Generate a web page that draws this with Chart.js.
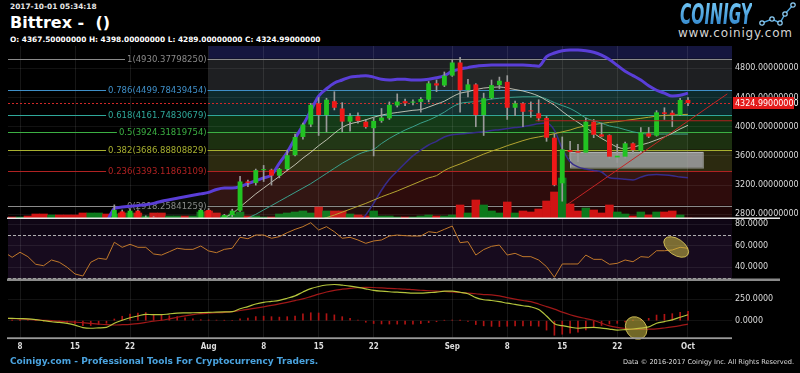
<!DOCTYPE html>
<html>
<head>
<meta charset="utf-8">
<script src="https://cdn.jsdelivr.net/npm/chart.js@4.4.0/dist/chart.umd.min.js"></script>
<style>
  body { margin:0; background:#000; width:800px; height:373px; overflow:hidden; position:relative; font-family:'DejaVu Sans', sans-serif; }
  canvas { position:absolute; left:0; }
  .txt { position:absolute; white-space:nowrap; color:#e6e6e6; }
</style>
</head>
<body>
<div class="txt" style="left:10px;top:2px;font:bold 7.4px 'DejaVu Sans';line-height:10px">2017-10-01 05:34:18</div>
<div class="txt" style="left:10px;top:13px;font:bold 16px 'DejaVu Sans';line-height:20px;color:#fff">Bittrex -&nbsp; ()</div>
<div class="txt" style="left:10px;top:34.6px;font:bold 7.4px 'DejaVu Sans';line-height:9px;color:#fff">O: 4367.50000000 H: 4398.00000000 L: 4289.00000000 C: 4324.99000000</div>

<div class="txt" style="left:680px;top:1px;font:italic bold 28px 'DejaVu Sans';line-height:28px;transform:scaleX(0.55);transform-origin:left top;background:linear-gradient(#74c8f6,#2b7fc6);-webkit-background-clip:text;background-clip:text;color:transparent">COINIGY</div>
<svg style="position:absolute;left:756px;top:0" width="42" height="30">
  <polyline points="6,23 16,19 24,23 29,14 37,5" fill="none" stroke="#4fa6e0" stroke-width="1.4"/>
  <circle cx="6" cy="23" r="2.2" fill="#000" stroke="#8fd0f8" stroke-width="1.2"/>
  <circle cx="16" cy="19" r="2.2" fill="#000" stroke="#8fd0f8" stroke-width="1.2"/>
  <circle cx="24" cy="23" r="2.2" fill="#000" stroke="#8fd0f8" stroke-width="1.2"/>
  <circle cx="29" cy="14" r="2.2" fill="#000" stroke="#8fd0f8" stroke-width="1.2"/>
  <circle cx="37" cy="5" r="2.2" fill="#000" stroke="#8fd0f8" stroke-width="1.2"/>
</svg>
<div class="txt" style="left:678px;top:27px;font:12px 'DejaVu Sans';line-height:13px;letter-spacing:0.8px;color:#d4d4d4">www.coinigy.com</div>

<canvas id="cMain" width="800" height="173" style="top:46px"></canvas>
<canvas id="cRsi" width="800" height="62" style="top:219px"></canvas>
<canvas id="cMacd" width="800" height="81" style="top:281px"></canvas>

<div class="txt" style="left:10px;top:356px;font:bold 9px 'DejaVu Sans';line-height:10px;color:#4aa3df">Coinigy.com - Professional Tools For Cryptocurrency Traders.</div>
<div class="txt" style="right:6px;top:357.6px;font:6.6px 'DejaVu Sans';line-height:8px;color:#ddd">Data © 2016-2017 Coinigy Inc. All Rights Reserved.</div>

<script>
// daily candles, Bittrex BTC/USDT
const dates = [
  '07-06','07-07','07-08','07-09','07-10','07-11','07-12','07-13','07-14','07-15',
  '07-16','07-17','07-18','07-19','07-20','07-21','07-22','07-23','07-24','07-25',
  '07-26','07-27','07-28','07-29','07-30','07-31','08-01','08-02','08-03','08-04',
  '08-05','08-06','08-07','08-08','08-09','08-10','08-11','08-12','08-13','08-14',
  '08-15','08-16','08-17','08-18','08-19','08-20','08-21','08-22','08-23','08-24',
  '08-25','08-26','08-27','08-28','08-29','08-30','08-31','09-01','09-02','09-03',
  '09-04','09-05','09-06','09-07','09-08','09-09','09-10','09-11','09-12','09-13',
  '09-14','09-15','09-16','09-17','09-18','09-19','09-20','09-21','09-22','09-23',
  '09-24','09-25','09-26','09-27','09-28','09-29','09-30','10-01'
];
const opens = [
  2610,2600,2500,2560,2510,2360,2330,2400,2360,2210,
  1990,1930,2230,2320,2280,2840,2680,2850,2740,2760,
  2580,2560,2690,2730,2700,2710,2860,2720,2700,2790,
  2850,3250,3230,3405,3410,3330,3420,3610,3860,4030,
  4320,4160,4350,4250,4070,4145,4070,3980,4080,4115,
  4290,4350,4330,4340,4370,4595,4565,4700,4880,4500,
  4580,4160,4390,4570,4615,4260,4320,4215,4185,4120,
  3850,3225,3680,3665,3645,4070,3895,3885,3580,3590,
  3773,3670,3910,3877,4197,4192,4160,4367.5
];
const highs = [
  2620,2610,2570,2570,2520,2400,2420,2420,2380,2230,
  2030,2230,2390,2400,2930,2860,2870,2860,2780,2770,
  2620,2700,2730,2735,2720,2870,2880,2730,2800,2870,
  3320,3270,3420,3470,3420,3430,3680,3900,4050,4320,
  4400,4390,4480,4330,4180,4190,4100,4120,4250,4340,
  4450,4380,4370,4400,4620,4640,4750,4920,4950,4650,
  4590,4460,4640,4680,4700,4350,4330,4340,4370,4140,
  3900,3860,3800,3760,4120,4100,4050,3890,3760,3790,
  3780,3990,3990,4220,4260,4220,4390,4398
];
const lows = [
  2580,2490,2480,2500,2320,2270,2260,2340,2160,1970,
  1840,1920,2170,2260,2270,2620,2660,2680,2700,2480,
  2460,2550,2660,2640,2600,2700,2660,2650,2690,2770,
  2840,3180,3200,3250,3200,3300,3400,3600,3830,4000,
  3880,3930,4230,3930,3940,4050,3980,3600,4060,4100,
  4270,4290,4300,4200,4340,4480,4550,4690,4200,4410,
  4000,3880,4380,4520,4100,4150,4000,4130,4080,3800,
  3190,2980,3560,3520,3640,3850,3860,3570,3510,3570,
  3630,3660,3850,3870,4100,4000,4150,4289
];
const closes = [
  2600,2500,2560,2510,2360,2330,2400,2360,2210,1990,
  1930,2230,2320,2280,2860,2680,2850,2740,2760,2580,
  2560,2690,2730,2700,2710,2860,2720,2700,2790,2850,
  3250,3230,3405,3410,3330,3420,3610,3860,4030,4300,
  4160,4370,4260,4070,4145,4080,3995,4080,4125,4300,
  4345,4320,4345,4380,4595,4565,4700,4880,4500,4580,
  4160,4390,4570,4630,4260,4320,4205,4210,4115,3850,
  3200,3690,3655,3645,4070,3890,3865,3590,3603,3773,
  3680,3923,3865,4197,4175,4160,4366,4324.99
];
const volumes = [
  200,200,200,300,500,500,400,400,400,400,
  600,600,600,500,500,600,600,600,300,600,
  600,300,300,300,300,700,800,600,300,500,
  700,300,300,200,200,500,600,700,800,600,
  1200,800,800,800,500,400,300,800,300,300,
  200,200,200,300,400,300,300,400,1400,600,
  1900,1400,800,600,1700,600,800,700,1000,1800,
  2700,4100,1500,800,1100,900,600,1400,700,500,
  300,700,400,700,700,800,400,100
];

// overlays
const maFast = [
  2560,2555,2550,2540,2520,2490,2470,2450,2420,2370,
  2320,2300,2300,2295,2380,2440,2500,2540,2570,2580,
  2590,2610,2640,2660,2680,2710,2720,2730,2760,2810,
  2900,2990,3080,3160,3240,3320,3400,3480,3570,3650,
  3740,3820,3910,3990,4040,4065,4095,4130,4160,4180,
  4195,4210,4225,4235,4270,4310,4350,4410,4460,4480,
  4510,4530,4540,4545,4530,4510,4490,4460,4420,4360,
  4297,4210,4130,4060,3990,3910,3840,3780,3720,3700,
  3720,3750,3780,3820,3860,3910,3970,4020
];
const maMid = [
  2540,2540,2540,2535,2530,2520,2510,2500,2490,2470,
  2440,2430,2420,2410,2430,2440,2460,2480,2490,2500,
  2510,2520,2540,2550,2560,2580,2590,2600,2620,2660,
  2700,2750,2800,2860,2920,2980,3040,3100,3160,3220,
  3290,3360,3430,3500,3560,3620,3660,3690,3770,3840,
  3900,3955,4000,4050,4090,4140,4200,4270,4320,4335,
  4345,4360,4380,4390,4400,4405,4410,4410,4410,4380,
  4330,4290,4250,4190,4120,4080,4050,4010,3990,3960,
  3930,3910,3900,3900,3900,3900,3900,3900
];
const maSlow = [
  2500,2500,2500,2500,2495,2490,2485,2480,2470,2460,
  2450,2445,2440,2435,2440,2445,2450,2455,2460,2462,
  2465,2470,2475,2480,2485,2490,2495,2500,2505,2515,
  2525,2535,2545,2560,2575,2590,2605,2620,2645,2680,
  2720,2755,2790,2830,2870,2910,2950,2995,3040,3080,
  3120,3165,3210,3255,3300,3330,3400,3450,3490,3535,
  3580,3625,3665,3700,3740,3775,3810,3840,3860,3880,
  3905,3930,3955,3990,4010,4030,4045,4060,4070,4085,
  4100,4115,4130,4145,4155,4160,4165,4170
];
const bbUpper = [
  2720,2720,2710,2700,2690,2680,2680,2670,2670,2680,
  2700,2710,2720,2720,2880,2900,2910,2920,2930,2950,
  2980,3000,3020,3040,3060,3080,3100,3140,3160,3160,
  3180,3220,3260,3300,3340,3500,3650,3840,4020,4220,
  4420,4520,4600,4640,4680,4690,4700,4680,4650,4640,
  4650,4650,4640,4640,4650,4670,4700,4760,4790,4810,
  4830,4840,4845,4845,4845,4845,4845,4840,4830,4960,
  5010,5040,5050,5050,5040,5020,4980,4920,4840,4760,
  4700,4640,4560,4500,4460,4420,4430,4460
];
const bbLower = [
  2350,2360,2370,2380,2370,2340,2320,2300,2260,2180,
  2100,2060,2050,2050,2060,2080,2100,2120,2150,2170,
  2200,2230,2270,2310,2350,2400,2440,2460,2480,2500,
  2480,2470,2450,2430,2420,2400,2380,2360,2340,2330,
  2330,2340,2370,2420,2520,2650,2790,2950,3130,3280,
  3390,3500,3600,3680,3750,3800,3860,3890,3900,3910,
  3920,3930,3950,3960,3975,3990,4000,4020,4040,4050,
  3950,3700,3520,3450,3420,3400,3380,3300,3290,3280,
  3270,3310,3340,3345,3340,3330,3310,3300
];

// indicators
const rsi = [
  54,49.3,54.0,49.9,42.8,41.5,46.8,44.7,40.0,33.8,
  31.9,44.7,48.4,47.4,63.3,58.6,61.4,58.6,58.6,52.4,
  51.4,54.5,57.7,56.7,56.7,59.8,55.2,53.6,56.7,57.7,
  67.9,66.6,70.0,70.0,67.0,68.5,72.2,75.3,77.8,81.5,
  74.7,77.8,73.1,67.0,67.9,65.4,62.3,64.5,65.4,69.1,
  70.0,69.4,69.1,69.1,73.1,72.2,75.3,78.4,62.9,63.8,
  51.4,56.5,59.5,60.7,51.4,53.0,49.9,49.9,46.8,40.6,
  30.7,43.1,43.1,43.1,51.4,47.4,47.4,42.8,43.7,46.8,
  45.2,49.9,49.3,55.4,55.4,56.1,58.6,57.7
];
const macd = [
  29,27,24,22,13,0,-12,-20,-32,-52,
  -80,-88,-84,-77,-30,5,35,55,75,70,
  70,80,88,91,93,95,97,100,102,105,
  140,165,195,215,225,238,262,290,335,375,
  400,417,423,415,405,390,372,355,345,338,
  333,328,322,322,328,333,345,345,332,315,
  270,245,236,222,205,190,175,162,130,55,
  -35,-58,-76,-88,-82,-78,-86,-98,-109,-104,
  -97,-86,-72,-30,-10,10,40,70
];
const macdSignal = [
  30,25,20,15,10,5,0,-6,-12,-17,
  -23,-32,-40,-47,-50,-47,-43,-35,-20,-5,
  5,22,40,57,72,83,88,93,98,105,
  119,133,147,162,178,196,215,235,255,282,
  310,335,355,368,378,385,390,388,383,377,
  373,369,362,356,350,345,341,337,330,322,
  315,305,302,290,270,252,236,222,195,165,
  135,100,70,45,25,5,-30,-60,-78,-90,
  -100,-100,-99,-96,-85,-72,-57,-40
];
const macdHist = [
  0,2,4,7,3,-5,-12,-14,-20,-35,
  -57,-56,-44,-30,20,52,78,90,95,75,
  65,58,48,34,21,12,9,7,4,0,
  21,32,48,53,47,42,47,55,80,93,
  90,82,68,47,27,5,-18,-33,-38,-39,
  -40,-41,-40,-34,-22,-12,4,8,2,-7,
  -45,-60,-66,-68,-65,-62,-61,-60,-65,-110,
  -170,-158,-146,-133,-107,-83,-56,-38,-31,-14,
  3,14,27,66,75,82,97,110
];

// fibonacci retracement drawn from Aug 1
const fibRatios = ['1','0.786','0.618','0.5','0.382','0.236','0'];
const fibPrices = [4930.37798250, 4499.78439454, 4161.74830679, 3924.31819754, 3686.88808829, 3393.11863109, 2918.25841259];
const fibStart = '08-01';

// drawings (x in candle index units, y in price / indicator units)
const trendLine = [{x: 71.6, y: 2930}, {x: 92, y: 4450}];
const supportLine = [{x: 67.6, y: 4082}, {x: 92.6, y: 4082}];
const grayBox = {x0: 72, x1: 88.9, y0: 3440, y1: 3655};
const rsiMark = {x: 85.5, y: 58.9};
const macdMark = {x: 80.4, y: -85};

// axes
const tickDates = ['07-08','07-15','07-22','08-01','08-08','08-15','08-22','09-01','09-08','09-15','09-22','10-01'];
const tickLabels = ['8','15','22','Aug','8','15','22','Sep','8','15','22','Oct'];
const priceTicks = [2800, 3200, 3600, 4000, 4400, 4800];
const rsiTicks = [40, 60, 80];
const rsiBands = [70, 30];
const macdTicks = [0, 250];
const lastClose = closes[closes.length - 1];

const X_MIN = 0.47, X_MAX = 92.6;
const idx = dates.map((d, i) => i);
const tickIdx = tickDates.map(d => dates.indexOf(d));

const UP = '#22c322', DOWN = '#f01818';
const candleColors = idx.map(i => closes[i] >= opens[i] ? UP : DOWN);
const volColors = idx.map(i => closes[i] >= opens[i] ? '#0d7a1c' : '#d01414');

function xAxis(showLabels) {
    return {
        type: 'linear', min: X_MIN, max: X_MAX, offset: false,
        afterBuildTicks: s => { s.ticks = tickIdx.map(v => ({value: v})); },
        afterFit: s => { s.paddingLeft = 0; s.paddingRight = 0; if (showLabels) s.height = 24; },
        ticks: {
            display: showLabels, autoSkip: false, maxRotation: 0, padding: 4, color: '#dcdcdc',
            font: {family: "'DejaVu Sans Condensed','DejaVu Sans'", size: 8, weight: 'bold'},
            callback: (v, i) => tickLabels[i]
        },
        grid: {color: 'rgba(255,255,255,0.09)', drawTicks: false, offset: false},
        border: {display: false}
    };
}

function yAxis(min, max, ticks, decimals) {
    return {
        position: 'right', min: min, max: max,
        afterBuildTicks: s => { s.ticks = ticks.map(v => ({value: v})); },
        afterFit: s => { s.width = 68; s.paddingTop = 0; s.paddingBottom = 0; },
        ticks: {color: '#dcdcdc', padding: 3, font: {family: 'DejaVu Sans', size: 8}, callback: v => v.toFixed(decimals)},
        grid: {color: 'rgba(255,255,255,0.07)', drawTicks: false},
        border: {display: false}
    };
}

const baseOptions = {
    responsive: false, animation: false, devicePixelRatio: 1,
    layout: {padding: {left: 8, right: 0, top: 0, bottom: 0}},
    plugins: {legend: {display: false}, tooltip: {enabled: false}}
};

// ---------- main price panel ----------
const zoneColors = ['#15163f', '#1e1f22', '#0d2a2c', '#0f3312', '#1c3010', '#2c2a10', '#2e0c0c', '#1e0606'];
const fibColors = ['#8a8a8a', '#3f8fc8', '#2fa89a', '#3cb043', '#a8b030', '#b02222', '#8a8a8a'];

const mainPlugin = {
    id: 'mainDecor',
    beforeDraw(chart) {
        const {ctx, chartArea: a, scales: {x, y}} = chart;
        const x0 = x.getPixelForValue(dates.indexOf(fibStart));
        ctx.save();
        for (let k = 0; k <= fibPrices.length; k++) {
            const top = k === 0 ? a.top : y.getPixelForValue(fibPrices[k - 1]);
            const bot = k === fibPrices.length ? a.bottom : y.getPixelForValue(fibPrices[k]);
            ctx.fillStyle = zoneColors[k];
            ctx.fillRect(x0, top, a.right - x0, bot - top);
        }
        ctx.restore();
    },
    beforeDatasetsDraw(chart) {
        const {ctx, chartArea: a, scales: {x, y}} = chart;
        const x0 = x.getPixelForValue(dates.indexOf(fibStart));
        ctx.save();
        ctx.beginPath();
        ctx.rect(a.left, a.top, a.right - a.left, a.bottom - a.top);
        ctx.clip();
        ctx.font = "8.5px 'DejaVu Sans'";
        ctx.textBaseline = 'middle';
        ctx.textAlign = 'right';
        fibPrices.forEach((p, k) => {
            const py = Math.round(y.getPixelForValue(p)) + 0.5;
            ctx.strokeStyle = fibColors[k];
            ctx.lineWidth = 1;
            ctx.beginPath(); ctx.moveTo(a.left, py); ctx.lineTo(a.right, py); ctx.stroke();
            const label = fibRatios[k] + '(' + p.toFixed(8) + ')';
            const w = ctx.measureText(label).width;
            ctx.fillStyle = '#000';
            ctx.fillRect(x0 - w - 4, py - 5, w + 3, 10);
            ctx.fillStyle = fibColors[k];
            ctx.fillText(label, x0 - 2, py);
        });
        // last price
        const ly = Math.round(y.getPixelForValue(lastClose)) + 0.5;
        ctx.strokeStyle = '#d02828';
        ctx.setLineDash([2, 2]);
        ctx.beginPath(); ctx.moveTo(a.left, ly); ctx.lineTo(a.right, ly); ctx.stroke();
        ctx.setLineDash([]);
        // zone box
        const bx0 = x.getPixelForValue(grayBox.x0), bx1 = x.getPixelForValue(grayBox.x1);
        const by0 = y.getPixelForValue(grayBox.y1), by1 = y.getPixelForValue(grayBox.y0);
        ctx.fillStyle = 'rgba(190,190,200,0.68)';
        ctx.fillRect(bx0, by0, bx1 - bx0, by1 - by0);
        ctx.strokeStyle = 'rgba(220,220,230,0.5)';
        ctx.strokeRect(bx0 + 0.5, by0 + 0.5, bx1 - bx0, by1 - by0);
        ctx.restore();
    },
    afterDraw(chart) {
        const {ctx, chartArea: a, scales: {y}} = chart;
        ctx.save();
        const ly = y.getPixelForValue(lastClose);
        ctx.fillStyle = '#e41b1b';
        ctx.fillRect(a.right + 1, ly - 6, 61, 12);
        ctx.fillStyle = '#fff';
        ctx.font = "8px 'DejaVu Sans'";
        ctx.textBaseline = 'middle';
        ctx.textAlign = 'left';
        ctx.fillText(lastClose.toFixed(8), a.right + 3, ly + 0.5);
        ctx.fillStyle = '#e8e8e8';
        ctx.fillRect(7, a.bottom - 1.5, 773, 2);
        ctx.restore();
    }
};

new Chart(document.getElementById('cMain'), {
    type: 'bar',
    data: {
        labels: idx,
        datasets: [
            {type: 'line', label: 'Trend', data: trendLine, yAxisID: 'y', borderColor: '#c42424', borderWidth: 1, pointRadius: 0, order: 0},
            {type: 'line', label: 'Support', data: supportLine, yAxisID: 'y', borderColor: '#b02020', borderWidth: 1.2, pointRadius: 0, order: 0},
            {type: 'bar', label: 'Body', data: idx.map(i => [opens[i], closes[i]]), yAxisID: 'y', backgroundColor: candleColors,
             barPercentage: 0.62, categoryPercentage: 1, grouped: false, minBarLength: 1, borderWidth: 0, order: 1},
            {type: 'bar', label: 'Wick', data: idx.map(i => [lows[i], highs[i]]), yAxisID: 'y', backgroundColor: '#9a9a9a',
             barThickness: 1, grouped: false, borderWidth: 0, order: 2},
            {type: 'line', label: 'MA fast', data: maFast, yAxisID: 'y', borderColor: 'rgba(215,215,200,0.85)', borderWidth: 1, pointRadius: 0, cubicInterpolationMode: 'monotone', order: 3},
            {type: 'line', label: 'MA mid', data: maMid, yAxisID: 'y', borderColor: '#3aa08c', borderWidth: 1, pointRadius: 0, cubicInterpolationMode: 'monotone', order: 3},
            {type: 'line', label: 'MA slow', data: maSlow, yAxisID: 'y', borderColor: '#b4a430', borderWidth: 1, pointRadius: 0, cubicInterpolationMode: 'monotone', order: 3},
            {type: 'line', label: 'BB upper', data: bbUpper, yAxisID: 'y', borderColor: '#5a3ed8', borderWidth: 3, pointRadius: 0, cubicInterpolationMode: 'monotone',
             fill: '+1', backgroundColor: 'rgba(120,150,120,0.07)', order: 4},
            {type: 'line', label: 'BB lower', data: bbLower, yAxisID: 'y', borderColor: '#35298c', borderWidth: 1.5, pointRadius: 0, cubicInterpolationMode: 'monotone', order: 4},
            {type: 'bar', label: 'Volume', data: volumes, yAxisID: 'yv', backgroundColor: volColors,
             barPercentage: 1, categoryPercentage: 1, grouped: false, borderWidth: 0, order: 10}
        ]
    },
    options: Object.assign({}, baseOptions, {
        scales: {
            x: xAxis(false),
            y: yAxis(2736, 5106, priceTicks, 8),
            yv: {display: false, min: 0, max: 17300}
        }
    }),
    plugins: [mainPlugin]
});

// ---------- RSI panel ----------
function drawMark(ctx, px, py, rx, ry, rot) {
    ctx.save();
    ctx.beginPath();
    ctx.ellipse(px, py, rx, ry, rot, 0, Math.PI * 2);
    ctx.fillStyle = 'rgba(205,190,70,0.55)';
    ctx.fill();
    ctx.strokeStyle = 'rgba(225,205,90,0.85)';
    ctx.lineWidth = 1;
    ctx.stroke();
    ctx.restore();
}

const rsiPlugin = {
    id: 'rsiDecor',
    beforeDraw(chart) {
        const {ctx, chartArea: a, scales: {y}} = chart;
        ctx.save();
        ctx.fillStyle = '#0f0615';
        ctx.fillRect(a.left, a.top, a.right - a.left, a.bottom - a.top);
        const t = y.getPixelForValue(rsiBands[0]), b = y.getPixelForValue(rsiBands[1]);
        ctx.fillStyle = '#170b1e';
        ctx.fillRect(a.left, t, a.right - a.left, b - t);
        ctx.restore();
    },
    beforeDatasetsDraw(chart) {
        const {ctx, chartArea: a, scales: {y}} = chart;
        ctx.save();
        ctx.strokeStyle = '#b0b0b0';
        ctx.lineWidth = 1;
        ctx.setLineDash([3, 2]);
        rsiBands.forEach(v => {
            const py = Math.round(y.getPixelForValue(v)) + 0.5;
            ctx.beginPath(); ctx.moveTo(a.left, py); ctx.lineTo(a.right, py); ctx.stroke();
        });
        ctx.restore();
    },
    afterDatasetsDraw(chart) {
        const {ctx, scales: {x, y}} = chart;
        drawMark(ctx, x.getPixelForValue(rsiMark.x), y.getPixelForValue(rsiMark.y), 14, 8, 0.6);
    },
    afterDraw(chart) {
        const {ctx, chartArea: a} = chart;
        ctx.save();
        ctx.fillStyle = '#8a8a8a';
        ctx.fillRect(7, a.bottom - 2.5, 773, 2.5);
        ctx.restore();
    }
};

new Chart(document.getElementById('cRsi'), {
    type: 'line',
    data: {
        labels: idx,
        datasets: [
            {label: 'RSI', data: rsi, borderColor: '#c0782a', borderWidth: 1, pointRadius: 0, tension: 0}
        ]
    },
    options: Object.assign({}, baseOptions, {
        scales: {x: xAxis(false), y: yAxis(27.26, 84.93, rsiTicks, 4)}
    }),
    plugins: [rsiPlugin]
});

// ---------- MACD panel ----------
const macdPlugin = {
    id: 'macdDecor',
    afterDatasetsDraw(chart) {
        const {ctx, scales: {x, y}} = chart;
        drawMark(ctx, x.getPixelForValue(macdMark.x), y.getPixelForValue(macdMark.y), 12, 10, 0.9);
    },
    afterDraw(chart) {
        const {ctx, chartArea: a} = chart;
        ctx.save();
        ctx.fillStyle = '#9a9a9a';
        ctx.fillRect(7, a.bottom - 0.7, a.right - 7, 1.8);
        ctx.restore();
    }
};

new Chart(document.getElementById('cMacd'), {
    type: 'bar',
    data: {
        labels: idx,
        datasets: [
            {type: 'line', label: 'MACD', data: macd, borderColor: '#b4c43c', borderWidth: 1.2, pointRadius: 0, cubicInterpolationMode: 'monotone', order: 0},
            {type: 'line', label: 'Signal', data: macdSignal, borderColor: '#a01818', borderWidth: 1.2, pointRadius: 0, cubicInterpolationMode: 'monotone', order: 1},
            {type: 'bar', label: 'Histogram', data: macdHist, backgroundColor: '#b01414', barThickness: 1, grouped: false, borderWidth: 0, order: 2}
        ]
    },
    options: Object.assign({}, baseOptions, {
        scales: {x: xAxis(true), y: yAxis(-202.1, 463.8, macdTicks, 4)}
    }),
    plugins: [macdPlugin]
});
</script>
</body>
</html>
